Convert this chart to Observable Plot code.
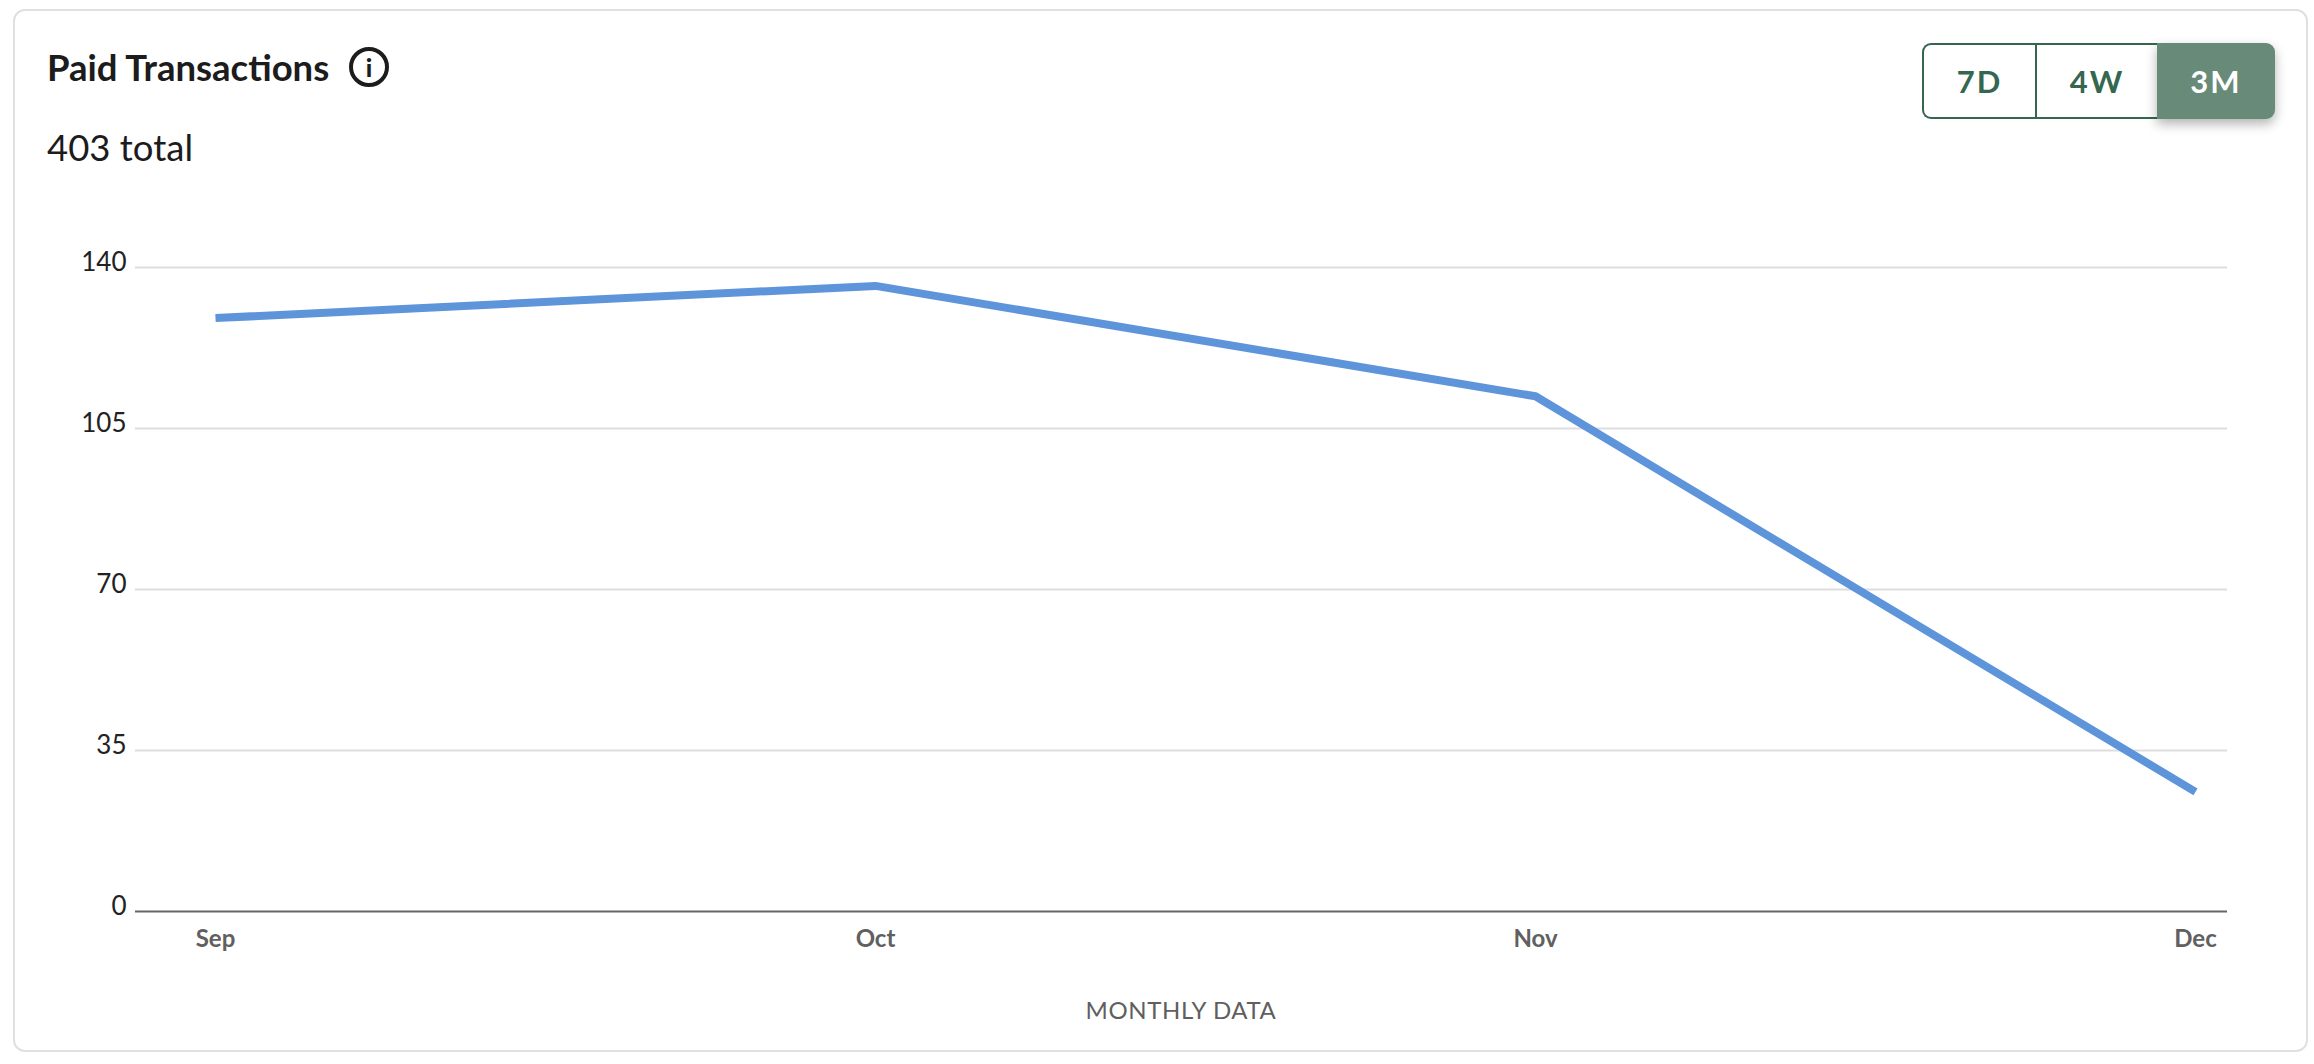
<!DOCTYPE html>
<html>
<head>
<meta charset="utf-8">
<script src="https://cdn.jsdelivr.net/npm/d3@7"></script>
<script src="https://cdn.jsdelivr.net/npm/@observablehq/plot@0.6"></script>
<style>
  html, body { margin: 0; padding: 0; background: #fff; }
  body { width: 2314px; height: 1064px; position: relative; overflow: hidden; font-family: Lato, "Open Sans", sans-serif; color: #1c1c1c; }
  #card { position: absolute; left: 13px; top: 9px; width: 2295px; height: 1043px; border: 2px solid #e0e0e0; border-radius: 12px; box-sizing: border-box; }
  #chart { position: absolute; left: 0; top: 0; }
  #title { position: absolute; left: 47px; top: 45px; font-size: 36.5px; line-height: 44px; font-weight: 700; white-space: nowrap; }
  #info { position: absolute; left: 349px; top: 47px; width: 40px; height: 40px; box-sizing: border-box; border: 4px solid #1c1c1c; border-radius: 50%; text-align: center; font-size: 25px; line-height: 32px; font-weight: 900; }
  #sub { position: absolute; left: 47px; top: 125px; font-size: 36.5px; line-height: 44px; font-weight: 400; white-space: nowrap; }
  #caption { position: absolute; left: 981px; width: 400px; top: 995px; text-align: center; font-size: 24px; line-height: 30px; color: #5f5f5f; letter-spacing: 0.6px; }
  #tabs { position: absolute; left: 1922px; top: 43px; width: 353px; height: 76px; display: flex; font-size: 31px; font-weight: 700; color: #35664f; letter-spacing: 2px; }
  #tabs div { box-sizing: border-box; display: flex; align-items: center; justify-content: center; height: 76px; }
  #t1 { width: 113px; border: 2px solid #35664f; border-right: 0; border-radius: 9px 0 0 9px; }
  #t2 { width: 122px; border: 2px solid #35664f; border-right: 0; }
  #t3 { width: 118px; background: #678a79; color: #fff; border-radius: 0 9px 9px 0; box-shadow: 0 5px 12px rgba(0,0,0,0.3); }
</style>
</head>
<body>
<div id="card"></div>
<div id="chart"></div>
<div id="title">Paid Transactions</div>
<div id="info">i</div>
<div id="sub">403 total</div>
<div id="tabs"><div id="t1">7D</div><div id="t2">4W</div><div id="t3">3M</div></div>
<div id="caption">MONTHLY DATA</div>
<script>
const months = ["Sep", "Oct", "Nov", "Dec"];
const paidTransactions = [129, 136, 112, 26];
const yTicks = [0, 35, 70, 105, 140];
const rows = months.map((month, i) => ({month, value: paidTransactions[i]}));

const plot = Plot.plot({
  width: 2314,
  height: 1064,
  marginLeft: 214,
  marginRight: 119,
  marginTop: 267,
  marginBottom: 153,
  style: {background: "transparent", overflow: "visible"},
  x: {type: "point", domain: months, padding: 0},
  y: {domain: [0, 140]},
  marks: [
    Plot.ruleY(yTicks.filter(d => d > 0), {stroke: "#dedede", strokeWidth: 2, insetLeft: -79, insetRight: -32}),
    Plot.ruleY([0], {stroke: "#666666", strokeWidth: 2, insetLeft: -79, insetRight: -32}),
    Plot.axisY({ticks: yTicks, tickSize: 0, tickPadding: 88, label: null, fontSize: 26, dy: -5, fontWeight: 400, color: "#222222", fontFamily: "Lato"}),
    Plot.axisX({tickSize: 0, tickPadding: 18, label: null, fontSize: 24, fontWeight: 700, color: "#606060", fontFamily: "Lato"}),
    Plot.line(rows, {x: "month", y: "value", stroke: "#5e95da", strokeWidth: 8, strokeLinecap: "butt", strokeLinejoin: "round"})
  ]
});
document.getElementById("chart").appendChild(plot);
</script>
</body>
</html>
